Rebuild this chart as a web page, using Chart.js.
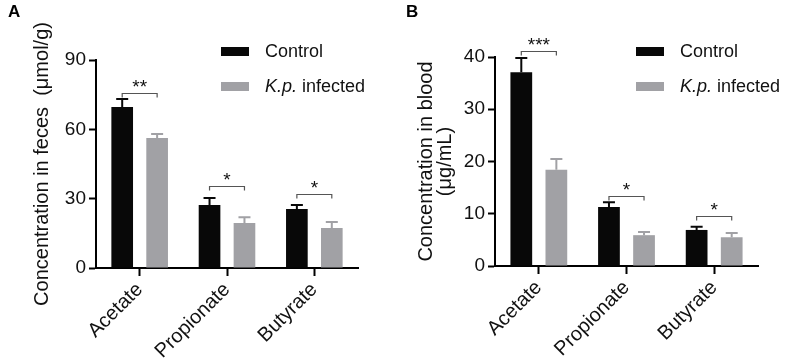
<!DOCTYPE html>
<html>
<head>
<meta charset="utf-8">
<script src="https://cdn.jsdelivr.net/npm/chart.js@4"></script>
<style>
  body { margin: 0; background: #fff; }
  .panel { position: absolute; top: 0; height: 362px; }
  #panelA { left: 0; width: 400px; }
  #panelB { left: 400px; width: 385px; }
</style>
</head>
<body>
<div class="panel" id="panelA"><canvas id="chartA"></canvas></div>
<div class="panel" id="panelB"><canvas id="chartB"></canvas></div>
<script>
// ---------- data ----------
const categories = ["Acetate", "Propionate", "Butyrate"];

// feces (µmol/g)
const fecesControl = [69.7, 27.3, 25.5];
const fecesControlErr = [3.4, 3.0, 1.8];
const fecesInfected = [56.2, 19.5, 17.3];
const fecesInfectedErr = [1.8, 2.5, 2.6];
const fecesTicks = [0, 30, 60, 90];
const fecesBracket = [75.7, 35.5, 32.0];
const fecesStars = ["**", "*", "*"];

// blood (µg/mL)
const bloodControl = [37.1, 11.3, 6.9];
const bloodControlErr = [2.7, 0.9, 0.6];
const bloodInfected = [18.4, 5.9, 5.5];
const bloodInfectedErr = [2.1, 0.6, 0.8];
const bloodTicks = [0, 10, 20, 30, 40];
const bloodBracket = [41.1, 13.4, 9.6];
const bloodStars = ["***", "*", "*"];

const BLACK = "#080808";
const GREY = "#a1a1a5";
const FONT = "'Liberation Sans', Arial, sans-serif";

Chart.defaults.font.family = FONT;
Chart.defaults.color = "#111";

// error bars, significance brackets, legend, panel letter
const extras = {
  id: "extras",
  afterDatasetsDraw(chart, args, opts) {
    const ctx = chart.ctx;
    const ys = chart.scales.y;
    ctx.save();

    // error bars (upper only)
    chart.data.datasets.forEach((ds, di) => {
      const meta = chart.getDatasetMeta(di);
      meta.data.forEach((bar, i) => {
        const top = ys.getPixelForValue(ds.data[i] + ds.errors[i]);
        ctx.strokeStyle = ds.backgroundColor;
        ctx.lineWidth = 2;
        ctx.beginPath();
        ctx.moveTo(bar.x, bar.y);
        ctx.lineTo(bar.x, top);
        ctx.moveTo(bar.x - 6, top);
        ctx.lineTo(bar.x + 6, top);
        ctx.stroke();
      });
    });

    // brackets + stars
    const m0 = chart.getDatasetMeta(0);
    const m1 = chart.getDatasetMeta(1);
    opts.brackets.forEach((v, i) => {
      const yb = Math.round(ys.getPixelForValue(v)) + 0.5;
      const x0 = m0.data[i].x;
      const x1 = m1.data[i].x;
      ctx.strokeStyle = "#555";
      ctx.lineWidth = 1.2;
      ctx.beginPath();
      ctx.moveTo(x0, yb + 4);
      ctx.lineTo(x0, yb);
      ctx.lineTo(x1, yb);
      ctx.lineTo(x1, yb + 4);
      ctx.stroke();
      ctx.fillStyle = "#111";
      ctx.font = "19px " + FONT;
      ctx.textAlign = "center";
      ctx.textBaseline = "alphabetic";
      ctx.fillText(opts.stars[i], (x0 + x1) / 2, yb - 1);
    });

    // legend
    const lg = opts.legend;
    chart.data.datasets.forEach((ds, di) => {
      const yy = lg.y + di * 35;
      ctx.fillStyle = ds.backgroundColor;
      ctx.fillRect(lg.x, yy - 4, 28, 9);
      ctx.fillStyle = "#111";
      ctx.textAlign = "left";
      ctx.textBaseline = "middle";
      let tx = lg.x + 44;
      ds.legendParts.forEach(p => {
        ctx.font = (p.italic ? "italic " : "") + "18px " + FONT;
        ctx.fillText(p.text, tx, yy + 1);
        tx += ctx.measureText(p.text).width;
      });
    });

    // panel letter
    ctx.fillStyle = "#000";
    ctx.font = "bold 17px " + FONT;
    ctx.textAlign = "left";
    ctx.textBaseline = "top";
    ctx.fillText(opts.letter, opts.letterX, 4);
    ctx.restore();
  }
};

function makeChart(id, cfg) {
  return new Chart(document.getElementById(id), {
    type: "bar",
    data: {
      labels: categories,
      datasets: [
        {
          label: "Control",
          legendParts: [{ text: "Control" }],
          data: cfg.control,
          errors: cfg.controlErr,
          backgroundColor: BLACK,
          categoryPercentage: 0.8,
          barPercentage: 0.62,
        },
        {
          label: "K.p. infected",
          legendParts: [{ text: "K.p.", italic: true }, { text: " infected" }],
          data: cfg.infected,
          errors: cfg.infectedErr,
          backgroundColor: GREY,
          categoryPercentage: 0.8,
          barPercentage: 0.62,
        },
      ],
    },
    options: {
      responsive: true,
      maintainAspectRatio: false,
      animation: false,
      layout: { padding: { left: 0, right: cfg.padRight, top: cfg.padTop, bottom: 0 } },
      plugins: {
        legend: { display: false },
        tooltip: { enabled: false },
        extras: {
          brackets: cfg.brackets,
          stars: cfg.stars,
          legend: cfg.legend,
          letter: cfg.letter,
          letterX: cfg.letterX,
        },
      },
      scales: {
        x: {
          afterFit: s => { s.height = cfg.xHeight; },
          grid: { offset: false, drawOnChartArea: false, tickLength: 8, tickWidth: 2, color: "#000" },
          border: { color: "#000", width: 2 },
          ticks: { minRotation: 45, maxRotation: 45, padding: 2, color: "#111", font: { size: 20 } },
        },
        y: {
          min: 0,
          max: cfg.ticks[cfg.ticks.length - 1],
          afterFit: s => { s.width = cfg.yWidth; },
          afterBuildTicks: s => { s.ticks = cfg.ticks.map(v => ({ value: v })); },
          grid: { drawOnChartArea: false, tickLength: 7, tickWidth: 2, color: "#000" },
          border: { color: "#000", width: 2 },
          ticks: { padding: 3, color: "#111", font: { size: 19 } },
          title: {
            display: true,
            text: cfg.title,
            color: "#111",
            font: { size: 20, lineHeight: cfg.titleLH },
            padding: { top: cfg.titlePad, bottom: 0 },
          },
        },
      },
    },
    plugins: [extras],
  });
}

makeChart("chartA", {
  control: fecesControl, controlErr: fecesControlErr,
  infected: fecesInfected, infectedErr: fecesInfectedErr,
  ticks: fecesTicks, brackets: fecesBracket, stars: fecesStars,
  title: "Concentration in feces  (\u03bcmol/g)", titleLH: 1.2, titlePad: 30,
  padRight: 42, padTop: 60, yWidth: 96, xHeight: 94,
  legend: { x: 221, y: 51 }, letter: "A", letterX: 8,
});

makeChart("chartB", {
  control: bloodControl, controlErr: bloodControlErr,
  infected: bloodInfected, infectedErr: bloodInfectedErr,
  ticks: bloodTicks, brackets: bloodBracket, stars: bloodStars,
  title: ["Concentration in blood", "(\u03bcg/mL)"], titleLH: 0.95, titlePad: 17,
  padRight: 27, padTop: 57, yWidth: 95, xHeight: 96,
  legend: { x: 236, y: 51 }, letter: "B", letterX: 6,
});
</script>
</body>
</html>
